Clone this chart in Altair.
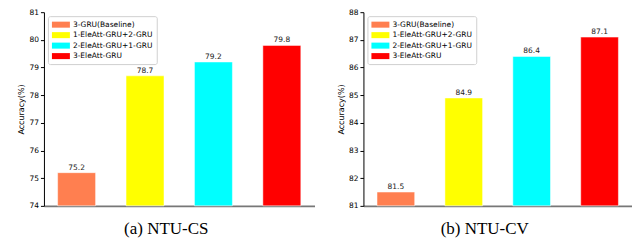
import altair as alt
import pandas as pd

categories = ["3-GRU(Baseline)", "1-EleAtt-GRU+2-GRU", "2-EleAtt-GRU+1-GRU", "3-EleAtt-GRU"]
cs_acc = [75.2, 78.7, 79.2, 79.8]
cv_acc = [81.5, 84.9, 86.4, 87.1]
colors = ["#FF7F50", "#FFFF00", "#00FFFF", "#FF0000"]
cs_ticks = [74, 75, 76, 77, 78, 79, 80, 81]
cv_ticks = [81, 82, 83, 84, 85, 86, 87, 88]
titles = ["(a) NTU-CS", "(b) NTU-CV"]


def panel(values, ticks, title, width):
    df = pd.DataFrame({"model": categories, "acc": values,
                       "label": [f"{v:.1f}" for v in values]})
    x = alt.X("model:N", sort=categories,
              scale=alt.Scale(paddingInner=0.445, paddingOuter=0.2),
              axis=alt.Axis(labels=False, ticks=False, title=None,
                            domainColor="#777777", domainWidth=1.6))
    y = alt.Y("acc:Q",
              scale=alt.Scale(domain=[ticks[0], ticks[-1]], zero=False, nice=False),
              axis=alt.Axis(values=ticks, title="Accuracy(%)", grid=False,
                            labelOverlap=False,
                            domainColor="black", tickColor="black", tickSize=3.5,
                            labelFontSize=7.5, labelColor="black", labelPadding=2,
                            labelFont="DejaVu Sans",
                            titleFont="DejaVu Sans", titleFontSize=8,
                            titleFontWeight="normal", titleColor="black",
                            titlePadding=3, format="d"))
    color = alt.Color("model:N", sort=categories,
                      scale=alt.Scale(domain=categories, range=colors),
                      legend=alt.Legend(title=None, orient="top-left", offset=4,
                                        symbolType="M-1,-0.67H3V0.67H-1Z",
                                        symbolSize=81, symbolStrokeWidth=0,
                                        symbolOpacity=1,
                                        labelFont="DejaVu Sans", labelFontSize=7.5,
                                        labelColor="black", labelOffset=12,
                                        rowPadding=2.5, padding=4,
                                        strokeColor="#d0d0d0", fillColor="white",
                                        cornerRadius=2))
    bars = alt.Chart(df).mark_bar(stroke="white", strokeWidth=0.5).encode(
        x=x, y=y, y2=alt.datum(ticks[0]), color=color)
    text = alt.Chart(df).mark_text(dy=-5, fontSize=7.5, font="DejaVu Sans",
                                   color="#222222").encode(
        x=x, y=y, text="label:N")
    return alt.layer(bars, text).properties(
        width=width, height=194,
        title=alt.TitleParams(title, orient="bottom", font="Liberation Serif",
                              fontSize=17, fontWeight="normal", color="black",
                              anchor="middle", frame="bounds", offset=12))


left = panel(cs_acc, cs_ticks, titles[0], 271)
right = panel(cv_acc, cv_ticks, titles[1], 269)

chart = alt.hconcat(left, right, spacing=22).resolve_scale(
    color="independent", y="independent", x="independent"
).resolve_legend(color="independent").configure_view(stroke=None).properties(
    padding={"left": 9, "top": 0, "right": 0, "bottom": 0})

chart.save("out.html", embed_options={"renderer": "svg", "actions": False})
